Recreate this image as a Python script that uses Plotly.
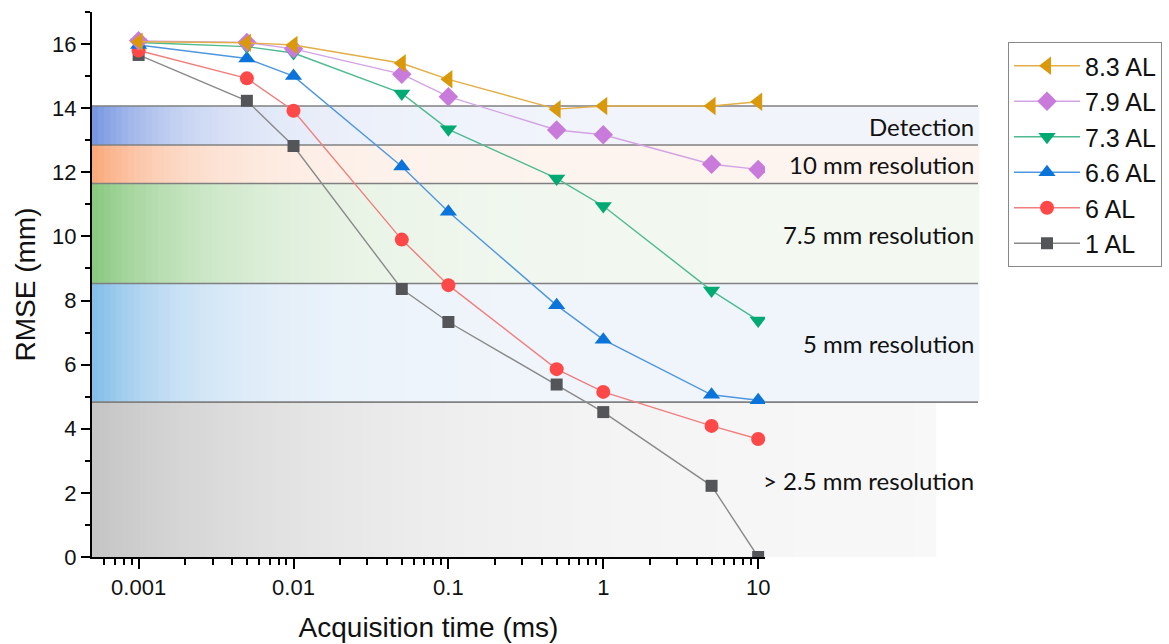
import math
import plotly.graph_objects as go

# ---------------- data ----------------
times = [0.001, 0.005, 0.01, 0.05, 0.1, 0.5, 1, 5, 10]
series_names = ["1 AL", "6 AL", "6.6 AL", "7.3 AL", "7.9 AL", "8.3 AL"]
rmse_1 = [15.66, 14.23, 12.82, 8.36, 7.33, 5.38, 4.52, 2.22, 0.0]
rmse_6 = [15.80, 14.93, 13.92, 9.90, 8.48, 5.86, 5.15, 4.09, 3.68]
rmse_66 = [15.97, 15.55, 15.00, 12.18, 10.77, 7.85, 6.78, 5.06, 4.89]
rmse_73 = [16.05, 15.92, 15.72, 14.46, 13.34, 11.81, 10.95, 8.31, 7.38]
rmse_79 = [16.10, 16.05, 15.85, 15.06, 14.36, 13.32, 13.17, 12.25, 12.09]
rmse_83 = [16.07, 16.04, 15.97, 15.40, 14.90, 13.97, 14.07, 14.07, 14.20]

band_edges = [0, 4.83, 8.53, 11.65, 12.85, 14.07]
band_labels = ["> 2.5 mm resolution", "5 mm resolution", "7.5 mm resolution",
               "10 mm resolution", "Detection"]
x_tick_vals = [0.001, 0.01, 0.1, 1, 10]
x_tick_text = ["0.001", "0.01", "0.1", "1", "10"]

# ---------------- styles ----------------
marker_colors = ["#545559", "#FF4848", "#0A74DA", "#00AA72", "#C97BDB", "#D9990B"]
line_colors = ["#8A8A8A", "#F07E7E", "#4E97DE", "#4DBA90", "#D3A3E3", "#E2AE45"]
symbols = ["square", "circle", "triangle-up", "triangle-down", "diamond", "triangle-left"]
sizes = [12, 14, 15, 15, 15, 16]

# band gradient styles: (left colour, right colour, decay px, end px)
band_styles = [
    ((196, 196, 196), (249, 249, 249), 230, 935),
    ((128, 188, 232), (240, 245, 251), 85, 978),
    ((136, 200, 126), (243, 248, 241), 115, 978),
    ((250, 166, 120), (253, 244, 239), 85, 978),
    ((116, 148, 224), (241, 244, 251), 85, 978),
]

PL, PR, PT, PB = 92, 765, 12, 557
W, H = 1169, 644
pw = PR - PL

fig = go.Figure()
all_series = [rmse_1, rmse_6, rmse_66, rmse_73, rmse_79, rmse_83]
for name, vals, mc, lc, sym, sz in zip(series_names, all_series, marker_colors,
                                       line_colors, symbols, sizes):
    fig.add_trace(go.Scatter(
        x=times, y=vals, name=name, mode="lines+markers",
        line=dict(color=lc, width=1.4),
        marker=dict(symbol=sym, size=sz, color=mc, line=dict(width=0)),
    ))

shapes = []
step = 6
for i, (lab, st) in enumerate(zip(band_labels, band_styles)):
    y0, y1 = band_edges[i], band_edges[i + 1]
    cl, cr, decay, endpx = st
    px = PL
    while px < endpx:
        nx = min(px + step, endpx)
        f = math.exp(-(px + step / 2 - PL) / decay)
        c = tuple(round(cr[k] + (cl[k] - cr[k]) * f) for k in range(3))
        shapes.append(dict(
            type="rect", xref="paper", yref="y",
            x0=(px - PL) / pw, x1=(nx - PL) / pw + 0.002, y0=y0, y1=y1,
            fillcolor="rgb(%d,%d,%d)" % c, line=dict(width=0), layer="below"))
        px = nx
for yv in band_edges[1:]:
    shapes.append(dict(type="line", xref="paper", yref="y",
                       x0=0, x1=(978 - PL) / pw, y0=yv, y1=yv,
                       line=dict(color="rgb(128,128,128)", width=1.6), layer="below"))

annotations = []
label_y = [2.4, 6.66, 10.06, 12.25, 13.44]
for lab, yv in zip(band_labels, label_y):
    annotations.append(dict(
        text=lab, xref="paper", yref="y", x=(976 - PL) / pw, y=yv,
        xanchor="right", yanchor="middle", showarrow=False,
        font=dict(family="Lato", size=24, color="#111111")))

minor_x = [k * 10 ** e for e in range(-4, 2) for k in range(2, 10)]
minor_x = [v for v in minor_x if 0.00055 < v < 11]

fig.update_layout(
    width=W, height=H, autosize=False,
    margin=dict(l=PL, r=W - PR, t=PT, b=H - PB, pad=0, autoexpand=False),
    paper_bgcolor="white", plot_bgcolor="white",
    shapes=shapes, annotations=annotations,
    font=dict(family="Liberation Sans, Arial", color="#111111"),
    legend=dict(
        x=(1008 - PL) / pw, y=(PB - 42) / (PB - PT), xanchor="left", yanchor="top",
        traceorder="reversed", bordercolor="#888888", borderwidth=1,
        bgcolor="white", font=dict(size=25, family="Liberation Sans, Arial", color="#111111"),
        itemwidth=66,
    ),
    xaxis=dict(
        type="log", range=[math.log10(0.0005), math.log10(11.07)],
        tickmode="array", tickvals=x_tick_vals, ticktext=x_tick_text,
        ticks="outside", ticklen=10, tickwidth=2, tickcolor="black",
        showline=True, linecolor="black", linewidth=2, showgrid=False, zeroline=False,
        tickfont=dict(size=22), automargin=False,
        minor=dict(tickmode="array", tickvals=minor_x, ticks="outside",
                   ticklen=6, tickwidth=2, tickcolor="black", showgrid=False),
        title=dict(text="Acquisition time (ms)", font=dict(size=28), standoff=18),
    ),
    yaxis=dict(
        range=[0, 17], tickmode="linear", tick0=0, dtick=2,
        ticks="outside", ticklen=9, tickwidth=2, tickcolor="black",
        showline=True, linecolor="black", linewidth=2, showgrid=False, zeroline=False,
        tickfont=dict(size=22), automargin=False,
        minor=dict(dtick=1, ticks="outside", ticklen=5, tickwidth=2,
                   tickcolor="black", showgrid=False),
        title=dict(text="RMSE (mm)", font=dict(size=28), standoff=8),
    ),
)

fig.write_html("out.html")
